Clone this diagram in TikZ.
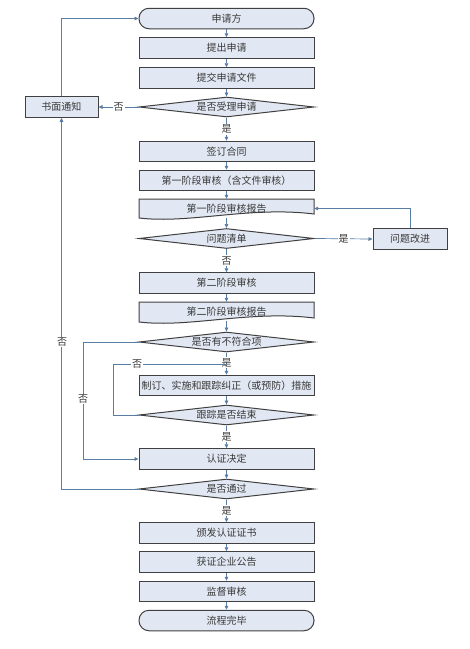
\documentclass[tikz,border=0pt]{standalone}
\usepackage{fontspec}
\newfontfamily\cjk{Noto Sans CJK SC}
\usetikzlibrary{shapes.geometric,arrows.meta}
\definecolor{boxfill}{HTML}{E2E8F3}
\definecolor{boxline}{HTML}{404040}
\definecolor{arr}{HTML}{5A7DA6}
\begin{document}
\begin{tikzpicture}[x=1pt,y=-1pt,
 every node/.style={font=\cjk\fontsize{10}{12}\selectfont, text=black!78},
 proc/.style={draw=boxline, fill=boxfill, line width=1pt, minimum width=175pt, minimum height=20.5pt, inner sep=0pt},
 term/.style={proc, rounded corners=10pt},
 dec/.style={diamond, draw=boxline, fill=boxfill, line width=1pt, minimum width=175pt, minimum height=20pt, inner sep=0pt, aspect=8.75},
 doc/.style={minimum width=175pt, minimum height=19pt, inner sep=0pt},
 docshape/.style={draw=boxline, fill=boxfill, line width=1pt},
 flow/.style={draw=arr, line width=0.7pt, -{Triangle[length=4pt,width=3.6pt]}},
 plain/.style={draw=arr, line width=0.7pt},
 lbl/.style={fill=white, inner sep=1pt}
]
\useasboundingbox[fill=white] (0,0) rectangle (470,649);

% document shapes (drawn first)
\draw[docshape] (139,199) -- (314,199) -- (314,214) .. controls (250,206) and (190,224) .. (139,218) -- cycle;
\draw[docshape] (139,302) -- (314,302) -- (314,318) .. controls (250,310) and (190,328) .. (139,322) -- cycle;

\node[term] (a) at (226.5,18.5) {申请方};
\node[proc] (b) at (226.5,48) {提出申请};
\node[proc] (c) at (226.5,78) {提交申请文件};
\node[dec]  (d) at (226.5,107) {是否受理申请};
\node[proc, minimum width=73pt] (n) at (61.5,107) {书面通知};
\node[proc] (e) at (226.5,151.5) {签订合同};
\node[proc] (f) at (226.5,180.5) {第一阶段审核（含文件审核）};
\node[doc]  (g) at (226.5,208.5) {第一阶段审核报告};
\node[dec]  (h) at (226.5,238.5) {问题清单};
\node[proc, minimum width=74pt] (i) at (410,239) {问题改进};
\node[proc] (j) at (226.5,283) {第二阶段审核};
\node[doc]  (k) at (226.5,311.5) {第二阶段审核报告};
\node[dec]  (l) at (226.5,342) {是否有不符合项};
\node[proc] (m) at (226.5,385.5) {制订、实施和跟踪纠正（或预防）措施};
\node[dec]  (o) at (226.5,415) {跟踪是否结束};
\node[proc] (p) at (226.5,459) {认证决定};
\node[dec]  (q) at (226.5,489) {是否通过};
\node[proc] (r) at (226.5,533) {颁发认证证书};
\node[proc] (s) at (226.5,562) {获证企业公告};
\node[proc] (t) at (226.5,591.5) {监督审核};
\node[term] (u) at (226.5,620.5) {流程完毕};

\coordinate (jn) at (226.5,364);

% main flow
\draw[flow] (a) -- (b);
\draw[flow] (b) -- (c);
\draw[flow] (c) -- (d);
\draw[flow] (d) -- node[lbl] {是} (e);
\draw[flow] (e) -- (f);
\draw[flow] (f) -- (g);
\draw[flow] (g.south) -- (h);
\draw[flow] (h) -- node[lbl] {否} (j);
\draw[flow] (j) -- (k);
\draw[flow] (k.south) -- (l);
\draw[flow] (l) -- node[lbl, pos=0.45] {是} (m);
\draw[flow] (m) -- (o);
\draw[flow] (o) -- node[lbl] {是} (p);
\draw[flow] (p) -- (q);
\draw[flow] (q) -- node[lbl] {是} (r);
\draw[flow] (r) -- (s);
\draw[flow] (s) -- (t);
\draw[flow] (t) -- (u);

% side flows
\draw[flow] (d.west) -- node[lbl] {否} (n.east);
\draw[flow] (n.north) |- (a.west);
\draw[flow] (h.east) -- node[lbl] {是} (i.west);
\draw[flow] (i.north) |- (g.east);
\draw[plain] (o.west) -| (113,364) -- (jn);
\node[lbl] (l1) at (137,364) {否};
\draw[flow] (l.west) -| (83,459) -- (p.west);
\node[lbl] (l2) at (83,399) {否};
\draw[flow] (q.west) -| (n.south);
\node[lbl] (l3) at (62,342) {否};
\end{tikzpicture}
\end{document}
